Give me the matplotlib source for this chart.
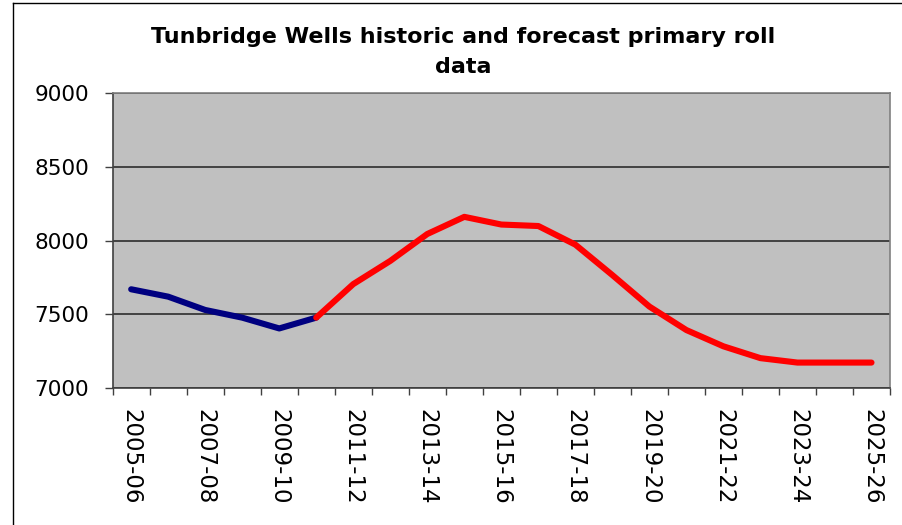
import numpy as np
import matplotlib
matplotlib.use("Agg")
import matplotlib.pyplot as plt
from matplotlib.lines import Line2D

# school years on the category axis
years = ["2005-06", "2006-07", "2007-08", "2008-09", "2009-10", "2010-11",
         "2011-12", "2012-13", "2013-14", "2014-15", "2015-16", "2016-17",
         "2017-18", "2018-19", "2019-20", "2020-21", "2021-22", "2022-23",
         "2023-24", "2024-25", "2025-26"]

# actual rolls up to 2010-11, forecast from 2010-11 onwards
historic = [7670, 7620, 7530, 7478, 7405, 7478]
forecast = [7478, 7705, 7862, 8044, 8160, 8108, 8098, 7972, 7766, 7553,
            7394, 7284, 7204, 7174, 7174, 7174]

fig = plt.figure(figsize=(9.02, 5.25), dpi=100)
ax = fig.add_axes([0.1249, 0.2604, 0.9867 - 0.1249, 0.8234 - 0.2604])
ax.set_facecolor("#C0C0C0")

x_hist = np.arange(len(historic))
x_fore = np.arange(len(historic) - 1, len(historic) - 1 + len(forecast))
ax.plot(x_hist, historic, color="#000080", lw=4.4, solid_capstyle="round",
        solid_joinstyle="round", zorder=3)
ax.plot(x_fore, forecast, color="#FF0000", lw=4.4, solid_capstyle="round",
        solid_joinstyle="round", zorder=4)

ax.set_xlim(-0.5, len(years) - 0.5)
ax.set_ylim(7000, 9000)
ax.set_yticks([7000, 7500, 8000, 8500, 9000])
ax.yaxis.grid(True, color="#202020", lw=1.1)
ax.set_axisbelow(True)

# ticks sit on the category boundaries, labels on every other category
ax.set_xticks(np.arange(len(years) + 1) - 0.5)
ax.set_xticklabels([])
ax.set_xticks(np.arange(0, len(years), 2), minor=True)
ax.set_xticklabels(years[::2], minor=True, rotation=270, fontsize=16.5)
ax.tick_params(axis="x", which="minor", length=0, pad=15)
ax.tick_params(axis="x", which="major", length=5, width=1, color="#404040")
ax.tick_params(axis="y", length=6, width=1, color="#404040", pad=11,
               labelsize=15.5)

for side in ["top", "right"]:
    ax.spines[side].set_color("#808080")
    ax.spines[side].set_linewidth(1.2)
for side in ["left", "bottom"]:
    ax.spines[side].set_color("#404040")
    ax.spines[side].set_linewidth(1.2)

fig.text(463 / 902, 1 - 73 / 525,
         "Tunbridge Wells historic and forecast primary roll\ndata",
         ha="center", va="baseline", fontsize=16, fontweight="bold",
         linespacing=1.65)

# chart frame edges
fig.add_artist(Line2D([13 / 902, 1], [1 - 3 / 525, 1 - 3 / 525],
                      transform=fig.transFigure, color="black", lw=1.0))
fig.add_artist(Line2D([13 / 902, 13 / 902], [0, 1 - 3 / 525],
                      transform=fig.transFigure, color="black", lw=1.0))

fig.savefig("out.png", dpi=100)
